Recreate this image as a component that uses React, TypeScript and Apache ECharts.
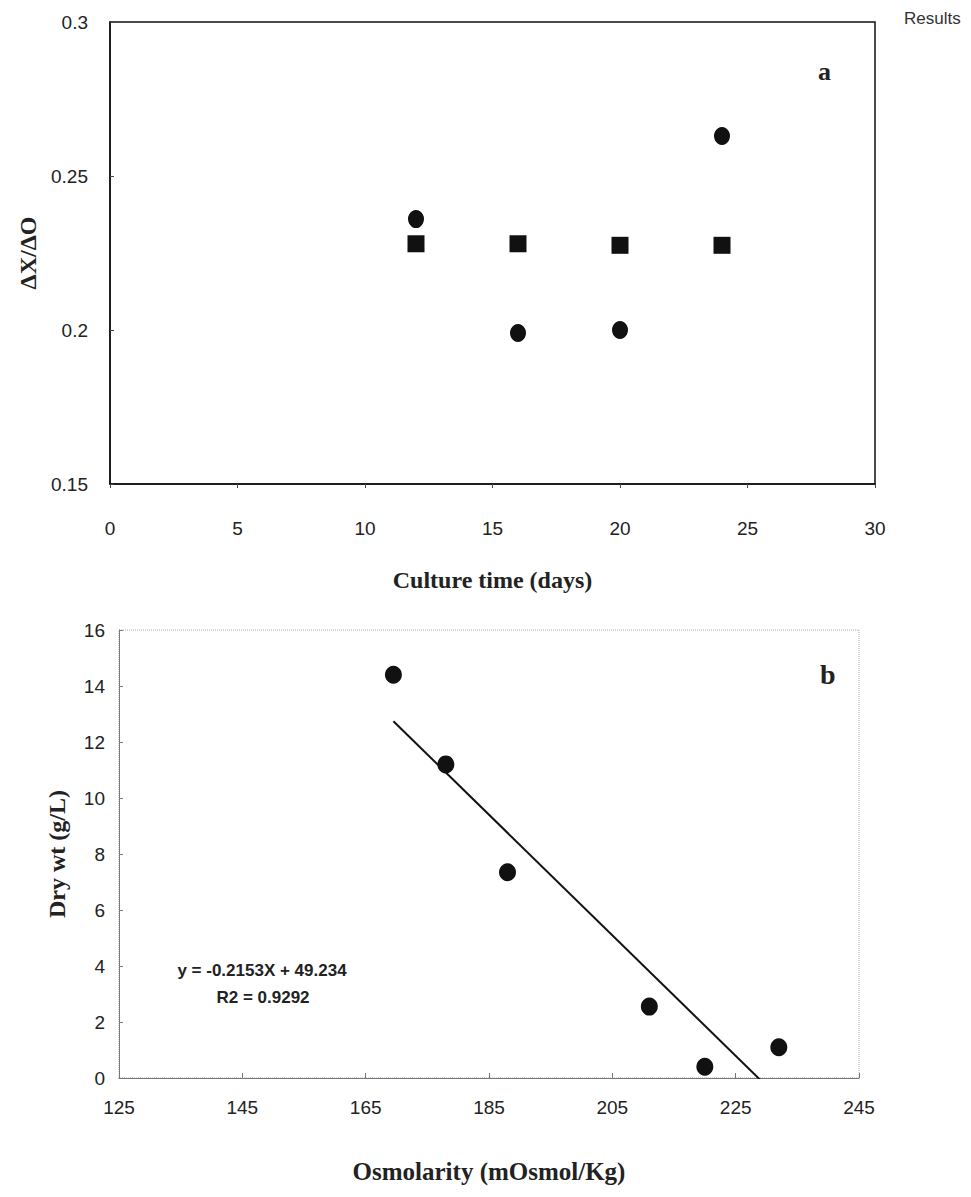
import React, { useEffect, useRef } from "react";
import * as echarts from "echarts";

// Panel a
const daysA = [12, 16, 20, 24];
const circlesA = [0.236, 0.199, 0.2, 0.263];
const squaresA = [0.228, 0.228, 0.2275, 0.2275];
const yTicksA = [0.15, 0.2, 0.25, 0.3];
const xTicksA = [0, 5, 10, 15, 20, 25, 30];

// Panel b
const osmB = [169.5, 178, 188, 211, 220, 232];
const dryB = [14.4, 11.2, 7.35, 2.55, 0.4, 1.1];
const xTicksB = [125, 145, 165, 185, 205, 225, 245];
const yTicksB = [0, 2, 4, 6, 8, 10, 12, 14, 16];
const slopeB = -0.2153;
const interceptB = 49.234;
const eqText = "y = -0.2153X + 49.234";
const r2Text = "R2 = 0.9292";

const SANS = '"Liberation Sans Narrow", "Arial Narrow", "Liberation Sans", Arial, sans-serif';
const SERIF = '"Liberation Serif", "Times New Roman", serif';
const INK = "#111";

export default function App() {
  const ref = useRef<HTMLDivElement>(null);
  useEffect(() => {
    if (!ref.current) return;
    const chart = echarts.init(ref.current, undefined, { renderer: "svg" });
    const xMinB = Math.min(...osmB);
    const xMaxB = Math.max(...osmB);
    const trend = [
      [xMinB, slopeB * xMinB + interceptB],
      [xMaxB, slopeB * xMaxB + interceptB],
    ];
    const tickLabel = { fontFamily: SANS, fontSize: 19, color: "#222" };
    const titleStyle = { fontFamily: SERIF, fontWeight: "bold" as const, fontSize: 24, color: "#222" };
    chart.setOption({
      animation: false,
      backgroundColor: "#fff",
      grid: [
        { left: 110, top: 22, width: 765, height: 462, show: true, borderColor: INK, borderWidth: 1.5, backgroundColor: "transparent" },
        { left: 119, top: 630, width: 740, height: 448, show: true, borderColor: "#aaa", borderWidth: 1, borderType: "dotted", backgroundColor: "transparent" },
      ],
      xAxis: [
        {
          gridIndex: 0, type: "value", min: 0, max: 30, interval: 5,
          name: "Culture time (days)", nameLocation: "middle", nameGap: 84, nameTextStyle: titleStyle,
          axisLine: { show: true, lineStyle: { color: INK, width: 1.5 } },
          axisTick: { show: true, inside: false, length: 4, customValues: xTicksA, lineStyle: { color: "#444" } },
          axisLabel: { ...tickLabel, margin: 35, customValues: xTicksA },
          splitLine: { show: false },
        },
        {
          gridIndex: 1, type: "value", min: 125, max: 245,
          name: "Osmolarity (mOsmol/Kg)", nameLocation: "middle", nameGap: 81, nameTextStyle: { ...titleStyle, fontSize: 25 },
          axisLine: { show: true, lineStyle: { color: "#777", width: 1 } },
          axisTick: { show: true, inside: true, length: 5, customValues: xTicksB, lineStyle: { color: "#777" } },
          axisLabel: { ...tickLabel, margin: 20, customValues: xTicksB },
          splitLine: { show: false },
        },
      ],
      yAxis: [
        {
          gridIndex: 0, type: "value", min: 0.15, max: 0.3,
          name: "ΔX/ΔO", nameLocation: "middle", nameGap: 60, nameRotate: 90, nameTextStyle: titleStyle,
          axisLine: { show: true, lineStyle: { color: INK, width: 1.5 } },
          axisTick: { show: true, inside: true, length: 4, customValues: yTicksA, lineStyle: { color: "#444" } },
          axisLabel: { ...tickLabel, margin: 22, customValues: yTicksA },
          splitLine: { show: false },
        },
        {
          gridIndex: 1, type: "value", min: 0, max: 16, interval: 2,
          name: "Dry wt (g/L)", nameLocation: "middle", nameGap: 50, nameRotate: 90, nameTextStyle: titleStyle,
          axisLine: { show: true, lineStyle: { color: "#777", width: 1 } },
          axisTick: { show: true, inside: true, length: 4, customValues: yTicksB, lineStyle: { color: "#777" } },
          axisLabel: { ...tickLabel, margin: 14, customValues: yTicksB },
          splitLine: { show: false },
        },
      ],
      series: [
        {
          type: "scatter", xAxisIndex: 0, yAxisIndex: 0, symbol: "circle", symbolSize: [16, 18],
          itemStyle: { color: INK, opacity: 1 },
          data: daysA.map((d, i) => [d, circlesA[i]]),
        },
        {
          type: "scatter", xAxisIndex: 0, yAxisIndex: 0, symbol: "rect", symbolSize: [17, 17],
          itemStyle: { color: INK, opacity: 1 },
          data: daysA.map((d, i) => [d, squaresA[i]]),
        },
        {
          type: "line", xAxisIndex: 1, yAxisIndex: 1, showSymbol: false, clip: true,
          lineStyle: { color: INK, width: 2 },
          data: trend,
          z: 1,
        },
        {
          type: "scatter", xAxisIndex: 1, yAxisIndex: 1, symbol: "circle", symbolSize: [17, 18],
          itemStyle: { color: INK, opacity: 1 },
          data: osmB.map((x, i) => [x, dryB[i]]),
          z: 3,
        },
      ],
      graphic: [
        { type: "text", left: 818, top: 58, style: { text: "a", font: `bold 26px ${SERIF}`, fill: "#222" } },
        { type: "text", left: 820, top: 660, style: { text: "b", font: `bold 28px ${SERIF}`, fill: "#222" } },
        { type: "text", left: 904, top: 10, style: { text: "Results", font: `17px ${SANS}`, fill: "#333" } },
        { type: "text", x: 262, y: 970, style: { text: eqText, font: `bold 17px ${SANS}`, fill: "#222", align: "center", verticalAlign: "middle" } },
        { type: "text", x: 263, y: 997, style: { text: r2Text, font: `bold 17px ${SANS}`, fill: "#222", align: "center", verticalAlign: "middle" } },
      ],
    });
    return () => chart.dispose();
  }, []);
  return <div ref={ref} style={{ position: "absolute", left: 0, top: 0, width: 971, height: 1197 }} />;
}
